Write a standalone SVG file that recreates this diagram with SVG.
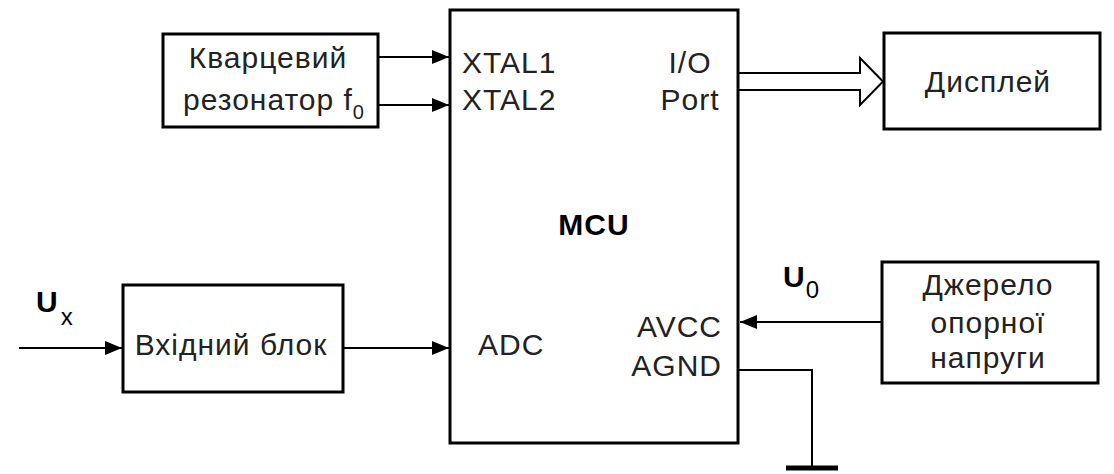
<svg xmlns="http://www.w3.org/2000/svg" width="1114" height="474" viewBox="0 0 1114 474">
<style>
.box{fill:#fff;stroke:#000;stroke-width:3}
.wire{fill:none;stroke:#000;stroke-width:2}
.t{font-family:"Liberation Sans",Arial,sans-serif;font-size:30px;letter-spacing:1px;fill:#222}
.m{text-anchor:middle}
.e{text-anchor:end}
.b{font-weight:bold;fill:#000}
</style>
<defs>
<marker id="ah" markerUnits="userSpaceOnUse" markerWidth="18" markerHeight="16" viewBox="0 0 18 16" refX="17" refY="8" orient="auto">
<path d="M0,1 L17,8 L0,15 Z" fill="#000"/>
</marker>
</defs>
<rect width="1114" height="474" fill="#fff"/>
<g id="connectors">
<line class="wire" x1="378" y1="57" x2="449" y2="57" marker-end="url(#ah)"/>
<line class="wire" x1="378" y1="105" x2="449" y2="105" marker-end="url(#ah)"/>
<polyline class="wire" points="738,73 860,73 860,58 883,81.5 860,105 860,90 738,90"/>
<line class="wire" x1="19" y1="348" x2="122" y2="348" marker-end="url(#ah)"/>
<line class="wire" x1="343" y1="348" x2="449" y2="348" marker-end="url(#ah)"/>
<line class="wire" x1="882" y1="322" x2="740" y2="322" marker-end="url(#ah)"/>
<polyline class="wire" points="738,370 812,370 812,466"/>
<line x1="786" y1="468" x2="838" y2="468" stroke="#000" stroke-width="5"/>
</g>
<g id="mcu">
<rect class="box" x="450" y="10" width="288" height="433"/>
<text class="t b m" x="594" y="235" font-size="34">MCU</text>
<text class="t" x="462" y="73">XTAL1</text>
<text class="t" x="462" y="110">XTAL2</text>
<text class="t m" x="690" y="73">I/O</text>
<text class="t m" x="690" y="110">Port</text>
<text class="t" x="478" y="355">ADC</text>
<text class="t e" x="722" y="337">AVCC</text>
<text class="t e" x="722" y="376">AGND</text>
</g>
<g id="crystal">
<rect class="box" x="163" y="34" width="215" height="93"/>
<text class="t m" x="268" y="68">Кварцевий</text>
<text class="t" x="183" y="110">резонатор f<tspan font-size="20" dy="9">0</tspan></text>
</g>
<g id="display">
<rect class="box" x="884" y="33" width="216" height="96"/>
<text class="t m" x="988" y="92">Дисплей</text>
</g>
<g id="input">
<rect class="box" x="123" y="285" width="220" height="107"/>
<text class="t m" x="231" y="355">Вхідний блок</text>
</g>
<g id="reference">
<rect class="box" x="882" y="262" width="216" height="121"/>
<text class="t m" x="988" y="295">Джерело</text>
<text class="t m" x="988" y="333">опорної</text>
<text class="t m" x="988" y="368">напруги</text>
</g>
<g id="labels">
<text class="t b" x="36" y="312" font-size="38">U<tspan font-size="24" font-weight="normal" dx="2" dy="13">x</tspan></text>
<text class="t b" x="783" y="287" font-size="38">U<tspan font-size="24" font-weight="normal" dy="11">0</tspan></text>
</g>
</svg>
